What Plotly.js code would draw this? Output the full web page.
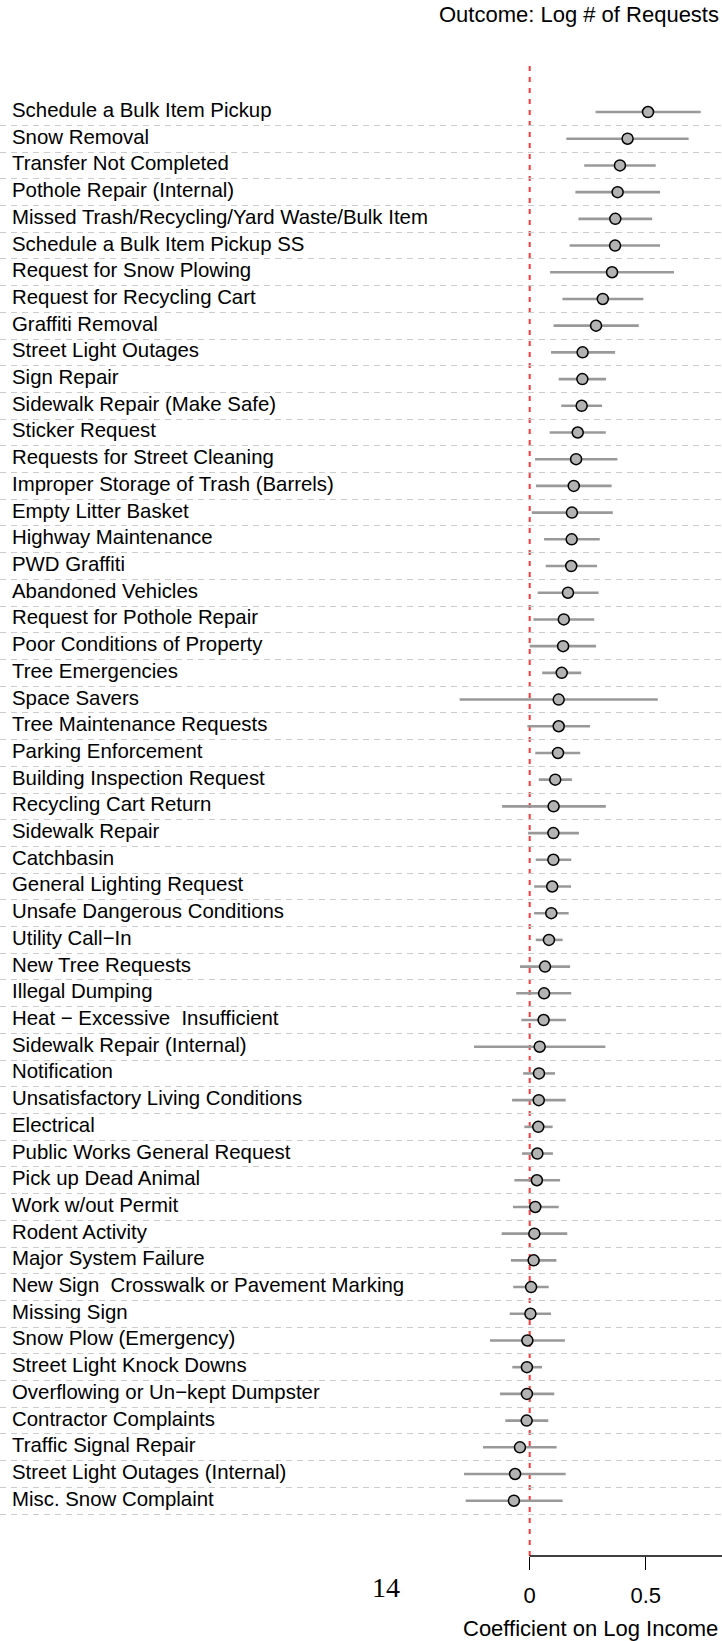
<!DOCTYPE html>
<html>
<head>
<meta charset="utf-8">
<script src="https://cdn.plot.ly/plotly-3.0.1.min.js"></script>
<style>
  html, body { margin: 0; padding: 0; background: #ffffff; }
  #chart { width: 722px; height: 1641px; }
</style>
</head>
<body>
<div id="chart"></div>
<script>
// Request types, ordered from the largest to the smallest income coefficient
const requestTypes = [
  "Schedule a Bulk Item Pickup",
  "Snow Removal",
  "Transfer Not Completed",
  "Pothole Repair (Internal)",
  "Missed Trash/Recycling/Yard Waste/Bulk Item",
  "Schedule a Bulk Item Pickup SS",
  "Request for Snow Plowing",
  "Request for Recycling Cart",
  "Graffiti Removal",
  "Street Light Outages",
  "Sign Repair",
  "Sidewalk Repair (Make Safe)",
  "Sticker Request",
  "Requests for Street Cleaning",
  "Improper Storage of Trash (Barrels)",
  "Empty Litter Basket",
  "Highway Maintenance",
  "PWD Graffiti",
  "Abandoned Vehicles",
  "Request for Pothole Repair",
  "Poor Conditions of Property",
  "Tree Emergencies",
  "Space Savers",
  "Tree Maintenance Requests",
  "Parking Enforcement",
  "Building Inspection Request",
  "Recycling Cart Return",
  "Sidewalk Repair",
  "Catchbasin",
  "General Lighting Request",
  "Unsafe Dangerous Conditions",
  "Utility Call\u2212In",
  "New Tree Requests",
  "Illegal Dumping",
  "Heat \u2212 Excessive \u00a0Insufficient",
  "Sidewalk Repair (Internal)",
  "Notification",
  "Unsatisfactory Living Conditions",
  "Electrical",
  "Public Works General Request",
  "Pick up Dead Animal",
  "Work w/out Permit",
  "Rodent Activity",
  "Major System Failure",
  "New Sign \u00a0Crosswalk or Pavement Marking",
  "Missing Sign",
  "Snow Plow (Emergency)",
  "Street Light Knock Downs",
  "Overflowing or Un\u2212kept Dumpster",
  "Contractor Complaints",
  "Traffic Signal Repair",
  "Street Light Outages (Internal)",
  "Misc. Snow Complaint"
];

// Point estimates of the coefficient on log income
const coefficient = [
  0.510, 0.422, 0.389, 0.379, 0.369, 0.368, 0.355, 0.315, 0.286, 0.228,
  0.227, 0.224, 0.207, 0.200, 0.190, 0.182, 0.181, 0.179, 0.165, 0.147,
  0.144, 0.138, 0.125, 0.125, 0.122, 0.110, 0.103, 0.102, 0.102, 0.097,
  0.093, 0.083, 0.066, 0.062, 0.060, 0.043, 0.040, 0.039, 0.037, 0.033,
  0.031, 0.024, 0.020, 0.017, 0.006, 0.003, -0.010, -0.012, -0.012, -0.013,
  -0.042, -0.063, -0.068
];

// Lower and upper ends of the confidence intervals
const ciLower = [
  0.284, 0.158, 0.235, 0.197, 0.210, 0.172, 0.088, 0.141, 0.103, 0.092,
  0.125, 0.136, 0.086, 0.023, 0.027, 0.009, 0.062, 0.069, 0.034, 0.016,
  0.000, 0.054, -0.302, -0.010, 0.024, 0.039, -0.119, -0.007, 0.026, 0.019,
  0.019, 0.026, -0.042, -0.058, -0.036, -0.240, -0.028, -0.076, -0.023, -0.033,
  -0.066, -0.072, -0.121, -0.081, -0.071, -0.086, -0.171, -0.075, -0.128, -0.105,
  -0.201, -0.283, -0.276
];
const ciUpper = [
  0.737, 0.685, 0.543, 0.562, 0.528, 0.562, 0.622, 0.490, 0.470, 0.368,
  0.329, 0.312, 0.328, 0.378, 0.353, 0.358, 0.302, 0.290, 0.297, 0.278,
  0.286, 0.222, 0.552, 0.260, 0.218, 0.182, 0.328, 0.212, 0.179, 0.178,
  0.168, 0.142, 0.174, 0.179, 0.156, 0.326, 0.109, 0.155, 0.099, 0.100,
  0.131, 0.125, 0.162, 0.115, 0.082, 0.092, 0.152, 0.053, 0.106, 0.080,
  0.116, 0.155, 0.142
];

// Tick labels of the horizontal axis
const xTickValues = [0, 0.5];
const xTickLabels = ["0", "0.5"];

const rowIndex = requestTypes.map((_, i) => i + 1);

const W = 722, H = 1641;
const plotTop = 62, plotBottom = 1556;
const sans = "Liberation Sans, Arial, Helvetica, sans-serif";

// pixel helpers for page-level text placed around the plot area
const pxToPaperX = px => px / W;
const pxToPaperY = py => (plotBottom - py) / (plotBottom - plotTop);

const estimates = {
  type: "scatter",
  mode: "markers",
  x: coefficient,
  y: rowIndex,
  error_x: {
    type: "data",
    symmetric: false,
    array: coefficient.map((c, i) => ciUpper[i] - c),
    arrayminus: coefficient.map((c, i) => c - ciLower[i]),
    width: 0,
    thickness: 2.6,
    color: "#999999"
  },
  marker: {
    symbol: "circle",
    size: 11,
    color: "#b3b3b3",
    line: { color: "#000000", width: 1.5 }
  },
  hoverinfo: "skip",
  showlegend: false,
  cliponaxis: false
};

const gridRows = rowIndex.map(r => r + 0.5);

const rowLabels = requestTypes.map((name, i) => ({
  xref: "paper",
  yref: "y",
  x: pxToPaperX(10),
  y: rowIndex[i],
  xanchor: "left",
  yanchor: "middle",
  yshift: 2,
  text: name,
  showarrow: false,
  font: { family: sans, size: 20.4, color: "#000000" }
}));

const layout = {
  width: W,
  height: H,
  paper_bgcolor: "#ffffff",
  plot_bgcolor: "#ffffff",
  margin: { l: 0, r: 0, t: plotTop, b: H - plotBottom, pad: 0 },
  showlegend: false,
  title: {
    text: "Outcome: Log # of Requests",
    xref: "container",
    yref: "container",
    x: 719 / W,
    xanchor: "right",
    y: 1 - 14 / H,
    yanchor: "middle",
    font: { family: sans, size: 22, color: "#000000" }
  },
  xaxis: {
    range: [-529.7 / 232, (W - 529.7) / 232],
    tickvals: xTickValues,
    ticktext: xTickLabels,
    ticks: "outside",
    ticklen: 13,
    tickwidth: 1.3,
    tickcolor: "#000000",
    ticklabelstandoff: 7,
    showline: false,
    showgrid: false,
    zeroline: false,
    tickfont: { family: sans, size: 22, color: "#000000" },
    fixedrange: true
  },
  yaxis: {
    range: [55.07, -0.873],
    tickvals: gridRows,
    showticklabels: false,
    ticks: "",
    showgrid: true,
    gridcolor: "#cccccc",
    gridwidth: 1,
    griddash: "6px,5px",
    zeroline: false,
    showline: false,
    fixedrange: true
  },
  shapes: [
    // reference line at zero
    {
      type: "line", layer: "below",
      xref: "x", yref: "paper",
      x0: 0, x1: 0, y0: 0, y1: 1,
      line: { color: "rgba(255,45,45,0.95)", width: 2, dash: "5px,6px" }
    },
    // axis line running right from zero
    {
      type: "line", layer: "above",
      xref: "x", yref: "paper",
      x0: 0, x1: 1, y0: 0, y1: 0,
      line: { color: "#000000", width: 1.3 }
    }
  ],
  annotations: rowLabels.concat([
    {
      xref: "paper", yref: "paper",
      x: pxToPaperX(590), y: pxToPaperY(1628),
      xanchor: "center", yanchor: "middle",
      text: "Coefficient on Log Income",
      showarrow: false,
      font: { family: sans, size: 22, color: "#000000" }
    },
    {
      xref: "paper", yref: "paper",
      x: pxToPaperX(386), y: pxToPaperY(1587),
      xanchor: "center", yanchor: "middle",
      text: "14",
      showarrow: false,
      font: { family: "Liberation Serif, DejaVu Serif, serif", size: 28, color: "#000000" }
    }
  ])
};

Plotly.newPlot("chart", [estimates], layout, { displayModeBar: false, staticPlot: true });
</script>
</body>
</html>
